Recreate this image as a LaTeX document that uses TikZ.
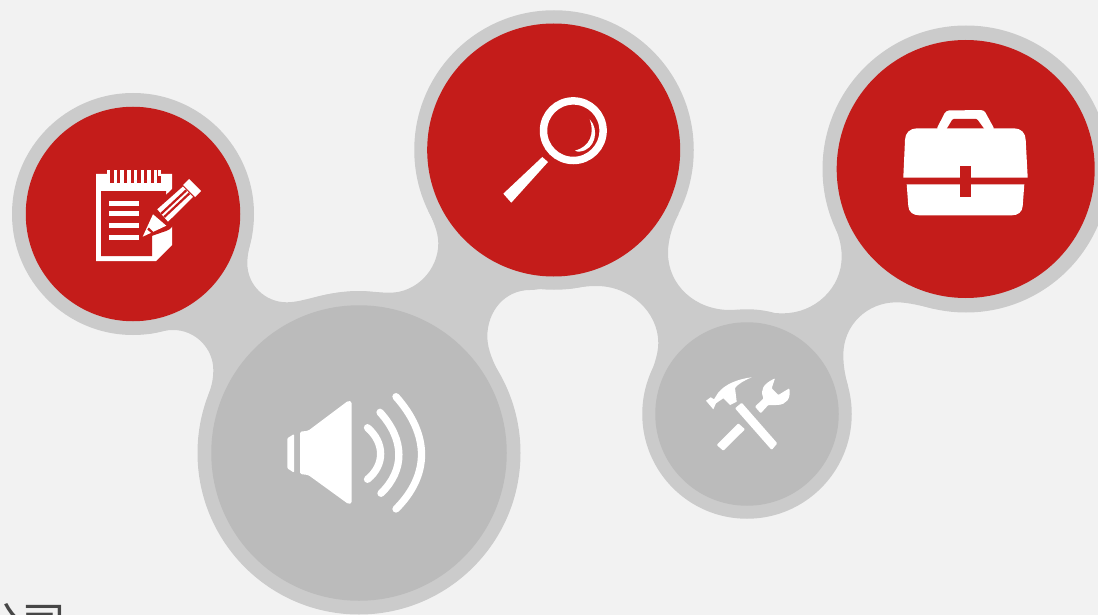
\documentclass[tikz,border=0pt]{standalone}
\usepackage{fontspec}
\newfontfamily\cjk{Noto Sans CJK SC}
\definecolor{bgc}{HTML}{F2F2F2}
\definecolor{blobc}{HTML}{CBCBCB}
\definecolor{redc}{HTML}{C41C1A}
\definecolor{grayc}{HTML}{BBBBBB}
\tikzset{
  blob/.style={fill=blobc,draw=none},
  icon/.style={fill=white,draw=none},
  cutred/.style={fill=redc,draw=none},
  wave/.style={draw=white,line width=7.3pt,line cap=round},
  disc/.style={circle,draw=none,inner sep=0pt,outer sep=0pt}
}
\begin{document}
\begin{tikzpicture}[x=1pt,y=-1pt]
\useasboundingbox (0,0) rectangle (1098,615);
\clip (0,0) rectangle (1098,615);
\fill[bgc] (0,0) rectangle (1098,615);
% caption fragment
\node[anchor=base west,inner sep=0pt,text=black!72,font=\cjk\fontsize{44}{44}\selectfont] (cap) at (-22,639) {公司};
% blob connectors
\fill[blob] (252,235) .. controls (250.3,244) and (247.3,253) .. (247.3,263.3) .. controls (247.3,285) and (265,302.3) .. (286.7,302.3) .. controls (305,302.3) and (325,291) .. (359,291) -- (359,453) -- (208.5,395) .. controls (212,385) and (213.3,378) .. (213.3,370) .. controls (213.3,348) and (195,330) .. (173.3,330) .. controls (163,330) and (157,332.6) .. (150,333.6) -- (133,214) -- cycle;
\fill[blob] (359,291) .. controls (370,291) and (378,292.7) .. (390,292.7) .. controls (416,292.7) and (438.3,270) .. (438.3,243.3) .. controls (438.3,232) and (432.8,220) .. (428,210) -- (554,150) -- (540,289) .. controls (537,289.5) and (534,290) .. (530,290) .. controls (505,290) and (487.3,311) .. (487.3,336.7) .. controls (487.3,350) and (494.5,365) .. (500,375) -- (359,453) -- cycle;
\fill[blob] (678.5,214) .. controls (674,223) and (668,237) .. (668,253) .. controls (668,285) and (695,310) .. (730,310) .. controls (740,309) and (760,313.3) .. (783,313.3) .. controls (815,313.3) and (841.7,288) .. (841.7,256.7) .. controls (841.7,243) and (837.5,233) .. (834.5,225) -- (966,169) -- (935,309) .. controls (922,306) and (908,302.3) .. (896.7,302.3) .. controls (867,302.3) and (843.3,325) .. (843.3,355) .. controls (843.3,366) and (845.2,376) .. (848,386) -- (747,414) -- (648.5,380) .. controls (652,370) and (658.3,356) .. (658.3,343) .. controls (658.3,312) and (630,286) .. (596.7,286) .. controls (586,286) and (578,287.5) .. (570,288.7) -- (554,150) -- cycle;
% discs
\node[disc,blob,minimum size=242pt] (a0) at (133,214) {};
\node[disc,blob,minimum size=323pt] (b0) at (359,453) {};
\node[disc,blob,minimum size=279.5pt] (c0) at (554,150) {};
\node[disc,blob,minimum size=209.5pt] (d0) at (747,414) {};
\node[disc,blob,minimum size=287pt] (e0) at (966,169) {};
\node[disc,fill=redc,minimum size=214.5pt] (a) at (133,214) {};
\node[disc,fill=grayc,minimum size=295.5pt] (b) at (359,453) {};
\node[disc,fill=redc,minimum size=253pt] (c) at (553.7,150) {};
\node[disc,fill=grayc,minimum size=183.5pt] (d) at (747,414) {};
\node[disc,fill=redc,minimum size=258pt] (e) at (965.7,169) {};
% notepad
\fill[icon] (96,174) -- (172,174) -- (172,245) -- (156,261) -- (96,261) -- cycle;
\foreach \t in {107,113.7,120.4,127.1,133.8,140.5,147.2,153.9}{
  \fill[icon] (\t,170) rectangle ++(3.4,6);
  \fill[cutred] (\t+3.4,170) rectangle ++(3.3,13);
}
\fill[icon] (157.6,170) rectangle (161,176);
\fill[cutred] (101,191) -- (166,191) -- (166,216) -- (152,232) -- (152,256) -- (101,256) -- cycle;
\foreach \ly in {201,211,223,235}{\fill[icon] (109,\ly) rectangle (139,\ly+5);}
% pencil
\fill[cutred] (140,240) -- (149,211) -- (187,175) -- (205,191) -- (170,229) -- (166,231) -- cycle;
\fill[icon] (142.7,236.7) -- (153,214.3) -- (166.3,225.7) -- cycle;
\fill[cutred] (147.3,229.5) -- (148.8,227.5) -- (154.5,233) -- (152.5,234) -- cycle;
\fill[icon] (157.3,209.3) -- (183,186.5) -- (193,197) -- (168,221.7) -- cycle;
\draw[redc,line width=2.2pt] (161.2,213.7) -- (186.4,190.2);
\draw[redc,line width=2.2pt] (164.2,217) -- (189.4,193.4);
\fill[icon] (183,185) -- (189,179) -- (201,191) -- (195,197) -- cycle;
% magnifier
\draw[draw=white,line width=7.5pt] (573.3,130.7) circle (29.8);
\fill[icon] (542.3,157) -- (548,162) -- (511.3,202.7) -- (503.3,193.7) -- cycle;
\fill[icon] (589.7,119.3) .. controls (595,133) and (590,147) .. (575,150.5) .. controls (577,152) and (579,152) .. (580,151.5) .. controls (595,150) and (600,130) .. (589.7,119.3) -- cycle;
% briefcase
\fill[icon,rounded corners=3pt] (936,130) -- (946,110.5) -- (984,110) -- (995,130) -- cycle;
\fill[cutred,rounded corners=1pt] (946,130) -- (952.7,119) -- (977,119) -- (985,130) -- cycle;
\fill[icon] (903.3,177.7) -- (905,140) .. controls (905,133) and (910,128.3) .. (917,128.3) -- (1014,128.3) .. controls (1021,128.3) and (1025.7,133) .. (1025.7,140) -- (1027.7,177.7) -- cycle;
\fill[icon] (906.7,184.3) -- (1024.3,184.3) -- (1022.7,206) .. controls (1022.3,212) and (1018,215.3) .. (1012,215.3) -- (919,215.3) .. controls (913,215.3) and (908.7,212) .. (908.3,206) -- cycle;
\fill[cutred] (960,165.7) rectangle (971,196.7);
% speaker
\fill[icon,rounded corners=1pt] (287.3,438.3) -- (294,434) -- (294,472.7) -- (287.3,468.3) -- cycle;
\fill[icon,rounded corners=1.5pt] (300,431.7) -- (308.3,430.7) -- (348.3,400.7) -- (351.7,401.7) -- (351.7,503.3) -- (348.3,504) -- (308.3,475) -- (300,474) -- cycle;
\draw[wave] (367.5,427.7) .. controls (385,443) and (385,465) .. (367.5,479.3);
\draw[wave] (380,412.3) .. controls (405,440) and (405,470) .. (381,493.3);
\draw[wave] (396,396.7) .. controls (430,435) and (430,475) .. (396,509);
% tools
\fill[icon,rounded corners=1pt] (735,408.3) -- (741.7,402.7) -- (777.3,443.3) -- (771.7,450) -- cycle;
\fill[icon,rounded corners=1pt] (716.7,445) -- (738.3,423.3) -- (745,429.3) -- (723.3,450.7) -- cycle;
\fill[icon] (706,400.7) -- (710.7,397.3) -- (714,399.3) -- (718,393) .. controls (725,384) and (738,379) .. (751.7,377.3) .. controls (745,380) and (738,384) .. (735,388) -- (736.7,401.7) -- (730,405) -- (723.3,398.3) -- (718.3,401.7) -- (716,403.3) -- (713.3,409.3) -- cycle;
\fill[icon,rounded corners=0.8pt] (755,406.7) -- (763.5,398.3) .. controls (760,390) and (763,384) .. (775,378.3) -- (771.7,388.3) -- (778.3,395) -- (789.3,388.3) .. controls (791,399) and (786,404.5) .. (777,405) -- (768.3,405) -- (760.7,413.3) -- cycle;
\end{tikzpicture}
\end{document}
